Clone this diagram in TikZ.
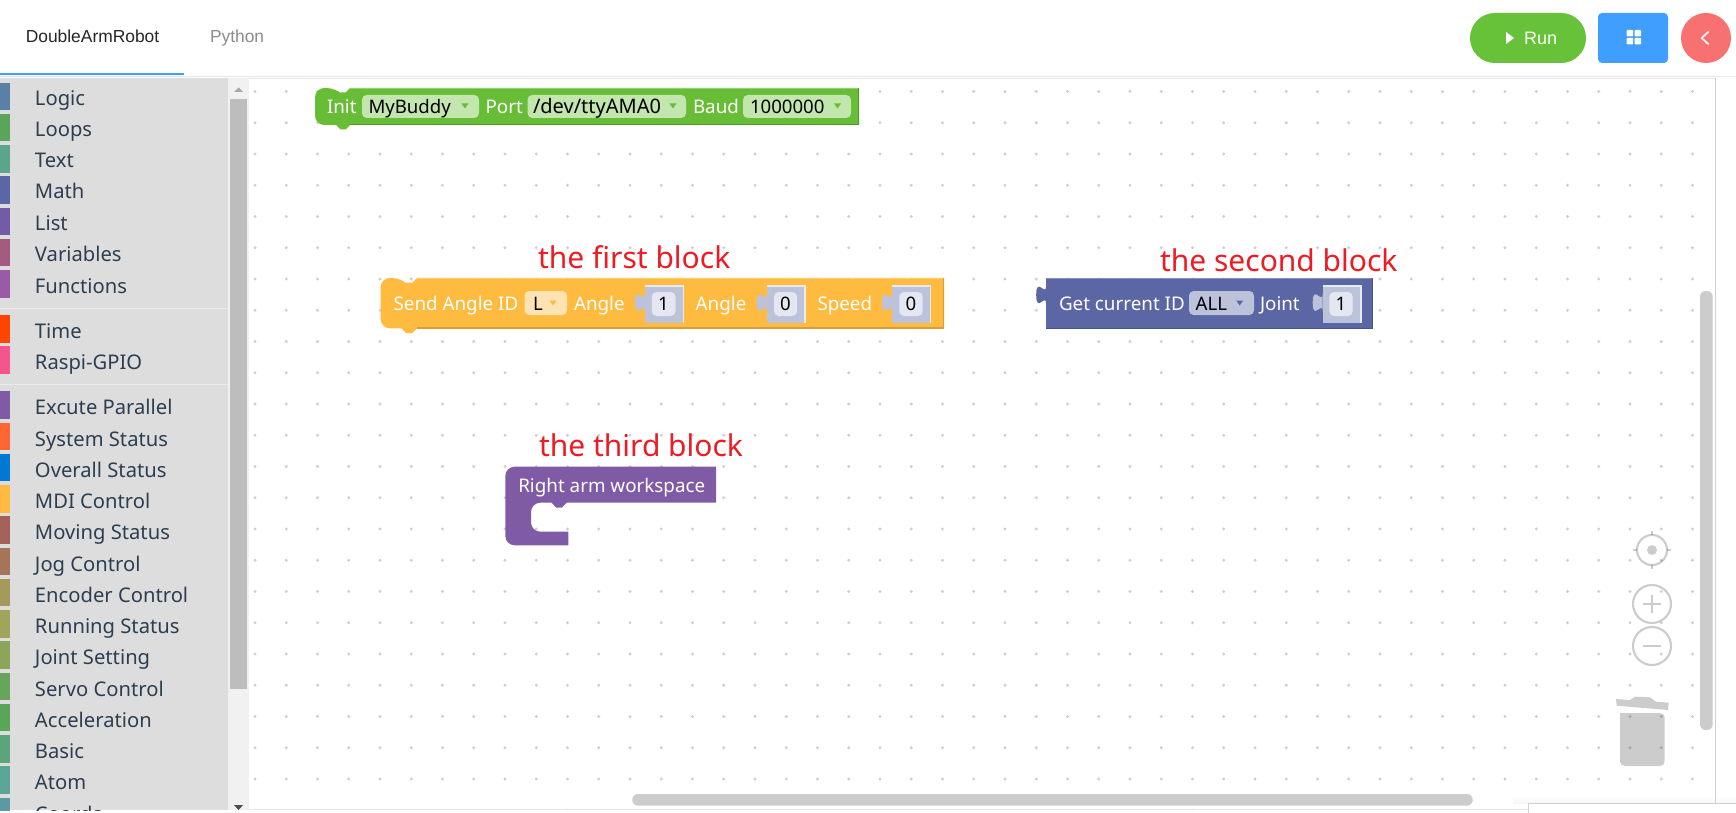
\documentclass[tikz,border=0pt]{standalone}
\usepackage{fontspec}
\setmainfont{Noto Sans}
\newfontfamily\uifont{Liberation Sans}
\newcommand{\fpx}[1]{\fontsize{\dimexpr#1pt*3/4\relax}{\dimexpr#1pt\relax}\selectfont}
\definecolor{sidebg}{HTML}{DDDDDD}
\definecolor{track}{HTML}{F1F1F1}
\definecolor{thumb}{HTML}{BDBDBD}
\definecolor{dotc}{HTML}{CFCFCF}
\definecolor{rule}{HTML}{E4E7ED}
\definecolor{ink}{HTML}{2C3E50}
\definecolor{annot}{HTML}{ED1C24}
\definecolor{tabblue}{HTML}{409EFF}
\definecolor{rungreen}{HTML}{67C23A}
\definecolor{backred}{HTML}{F87171}
\definecolor{greenb}{HTML}{67BD35}
\definecolor{greenf}{HTML}{C2E6AE}
\definecolor{orangeb}{HTML}{FFBB40}
\definecolor{orangef}{HTML}{FFE3B3}
\definecolor{blueb}{HTML}{5B67A5}
\definecolor{bluef}{HTML}{BDC2DB}
\definecolor{bluei}{HTML}{E4E6F1}
\definecolor{purpb}{HTML}{805BA5}
\tikzset{x=0.75pt,y=-0.75pt,
  every node/.style={inner sep=0pt,outer sep=0pt},
  cat/.style={anchor=base west,text=ink,font=\fpx{20.2}},
  wlabel/.style={anchor=base west,text=white,font=\fpx{18.8}},
  flabel/.style={anchor=base west,text=black,font=\fpx{18.6}},
  clabel/.style={anchor=base,text=black,font=\fpx{18.6}},
  anno/.style={anchor=base west,text=annot,font=\fpx{30}},
  field/.style={rounded corners=3.5pt},
  zoomicon/.style={draw=black,draw opacity=.2,line width=1.6pt},
  tablabel/.style={anchor=base west,font=\uifont\fpx{17.4}},
}
\newcommand{\puzzle}[3]{% x, top of tab, colour
  \fill[#3] (#1,#2) .. controls (#1,#2+12.5) and (#1-10,#2-10) .. (#1-10,#2+9.4)
     .. controls (#1-10,#2+28.8) and (#1,#2+6.25) .. (#1,#2+18.75) -- cycle;
}
\newcommand{\socket}[2]{% x, top
  \puzzle{#1+.2}{#2+7.5}{bluef}
  \fill[bluef] (#1,#2) rectangle (#1+38.5,#2+37);
  \draw[white!65!bluef,line width=.9pt] (#1,#2+.3) -- (#1+38.5,#2+.3) -- (#1+38.5,#2+37);
}
\newcommand{\arrowdn}[3]{\fill[#3] (#1-3.5,#2-2.5) -- (#1+3.5,#2-2.5) -- (#1,#2+2.5) -- cycle;}
\newcommand{\catrow}[5]{% name, top, bottom, colour, label
  \definecolor{catcol#1}{HTML}{#4}
  \fill[catcol#1] (0,#2) rectangle (10,#3);
  \node[cat] (cat#1) at (35,#2+23) {#5};
}
\begin{document}
\begin{tikzpicture}
\useasboundingbox (0,0) rectangle (1736,813);
\fill[white] (0,0) rectangle (1736,813);
% canvas dots
\foreach \i in {0,...,46}{\foreach \j in {0,...,23}{
  \fill[dotc] ({255+31.25*\i},{91.5+31.25*\j}) circle[radius=1.6];
}}
\fill[white] (0,810) rectangle (1736,813);
\fill[rule] (249,809) rectangle (1528,810.2);
% bottom-right box
\shade[top color=white,bottom color=black!3] (1513,795) rectangle (1736,803);
\fill[white] (1528,803) rectangle (1736,813);
\draw[black!18,line width=.75pt] (1528,813) -- (1528,803.5) -- (1736,803.5);
% header
\fill[rule] (0,76) rectangle (1736,77.3);
\fill[black!18] (1714.6,78) rectangle (1715.6,803);
\fill[rule] (249,78) rectangle (1715,78.8);
\fill[tabblue] (0,73) rectangle (184,75);
\node[tablabel,text=black!85] (tab1) at (25.8,42.5) {DoubleArmRobot};
\node[tablabel,text=black!45] (tab2) at (210,42.5) {Python};
% buttons
\fill[rungreen,rounded corners=18.7pt] (1470,13) rectangle (1586,63);
\fill[white] (1506,32) -- (1514,38) -- (1506,44) -- cycle;
\node[anchor=base west,font=\uifont\fpx{18},text=white] (run) at (1524,44.5) {Run};
\fill[tabblue,rounded corners=3pt] (1598,13) rectangle (1668,63);
\foreach \a/\b in {1626.7/30,1634.5/30,1626.7/37.8,1634.5/37.8}{
  \fill[white,rounded corners=.6pt] (\a,\b) rectangle (\a+6.5,\b+6.5);
}
\fill[backred] (1706,38) circle[radius=25];
\draw[white,line width=1.2pt] (1708.7,31.5) -- (1701.7,38) -- (1708.7,44.5);
% sidebar
\fill[sidebg] (0,78) rectangle (228,810);
\fill[track] (228,78) rectangle (249,810);
\fill[thumb] (230,99) rectangle (247,689);
\fill[black!35] (234,92) -- (243,92) -- (238.5,87.5) -- cycle;
\fill[black!70] (234,805) -- (243,805) -- (238.5,810) -- cycle;
\fill[white!40!sidebg] (0,307.5) rectangle (228,308.5);
\fill[white!40!sidebg] (0,383.5) rectangle (228,384.5);
\begin{scope}
\clip (0,78) rectangle (228,810);
\catrow{a}{83}{110}{5B80A5}{Logic}
\catrow{b}{114}{141}{5BA55B}{Loops}
\catrow{c}{145}{173}{5BA58C}{Text}
\catrow{d}{176}{204}{5B67A5}{Math}
\catrow{e}{208}{235}{745BA5}{List}
\catrow{f}{239}{266}{A55B80}{Variables}
\catrow{g}{270}{298}{995BA5}{Functions}
\catrow{h}{315}{343}{FF4500}{Time}
\catrow{i}{346}{374}{F5548C}{Raspi-GPIO}
\catrow{j}{391}{419}{805BA5}{Excute Parallel}
\catrow{k}{423}{450}{FF6632}{System Status}
\catrow{l}{454}{481}{0078D4}{Overall Status}
\catrow{m}{485}{513}{FFBB40}{MDI Control}
\catrow{n}{516}{544}{A5625B}{Moving Status}
\catrow{o}{548}{575}{A5745B}{Jog Control}
\catrow{p}{579}{606}{A5995B}{Encoder Control}
\catrow{q}{610}{638}{A0A55B}{Running Status}
\catrow{r}{641}{669}{8CA55B}{Joint Setting}
\catrow{s}{673}{700}{67A55B}{Servo Control}
\catrow{t}{704}{731}{5BA55B}{Acceleration}
\catrow{u}{735}{763}{5BA57A}{Basic}
\catrow{v}{766}{794}{5BA599}{Atom}
\catrow{w}{798}{826}{5B99A5}{Coords}
\end{scope}
% Init block
\fill[greenb] [rounded corners=7pt] (315,106) -- (315,88) -- (336,88) [sharp corners]
   -- (340.5,92.5) -- (345.5,92.5) -- (350,88) -- (859,88) -- (859,125) -- (350,125)
   -- (345.5,129.5) -- (340.5,129.5) -- (336,125) [rounded corners=7pt] -- (315,125) -- (315,106) -- cycle;
\draw[white!30!greenb,line width=.9pt] (350,88.4) -- (859,88.4);
\draw[black!20!greenb,line width=.9pt] (350,124.8) -- (858.7,124.8) -- (858.7,88.4);
\fill[greenf,field] (362,95) rectangle (479,118);
\fill[greenf,field] (527.5,95) rectangle (686,118);
\fill[greenf,field] (743,95) rectangle (851,118);
\arrowdn{465}{106}{greenb}
\arrowdn{673}{106}{greenb}
\arrowdn{837.5}{106}{greenb}
\node[wlabel] (initt) at (327,113.5) {Init};
\node[flabel] (initf) at (368.5,113.5) {MyBuddy};
\node[wlabel] (portt) at (485.6,113.5) {Port};
\node[flabel,font=\fpx{20}] (portf) at (533,113.5) {/dev/ttyAMA0};
\node[wlabel] (baudt) at (693,113.5) {Baud};
\node[flabel] (baudf) at (750,113.5) {1000000};
% Send block
\fill[orangeb] [rounded corners=7pt] (380.6,303) -- (380.6,278) -- (401.5,278) [sharp corners]
   -- (406,282.5) -- (412.5,282.5) -- (417,278) -- (944,278) -- (944,328.3) -- (417,328.3)
   -- (412.5,333) -- (406,333) -- (401.5,328.3) [rounded corners=7pt] -- (380.6,328.3) -- (380.6,303) -- cycle;
\draw[white!25!orangeb,line width=.9pt] (417,278.4) -- (944,278.4);
\draw[black!15!orangeb,line width=.9pt] (417,328) -- (943.7,328) -- (943.7,278.4);
\fill[orangef,field] (524.5,291) rectangle (567,315);
\arrowdn{553}{303}{orangeb}
\socket{644.7}{285.7}
\socket{766.5}{285.7}
\socket{892}{285.7}
\fill[bluei,field] (651.8,292) rectangle (675.5,316);
\fill[bluei,field] (774,292) rectangle (797,316);
\fill[bluei,field] (899.4,292) rectangle (922.7,316);
\node[wlabel] (sendt) at (393.6,310.5) {Send Angle ID};
\node[flabel] (sendf) at (533,310.5) {L};
\node[wlabel] (ang1) at (574,310.5) {Angle};
\node[clabel] (v1) at (663.5,310.5) {1};
\node[wlabel] (ang2) at (695.7,310.5) {Angle};
\node[clabel] (v2) at (785.5,310.5) {0};
\node[wlabel] (spd) at (817.5,310.5) {Speed};
\node[clabel] (v3) at (911,310.5) {0};
% Get block
\puzzle{1046.2}{285.5}{blueb}
\fill[blueb] (1046,278) rectangle (1373,328.5);
\draw[white!25!blueb,line width=.9pt] (1046,278.4) -- (1373,278.4);
\draw[black!18!blueb,line width=.9pt] (1046,328.2) -- (1372.7,328.2) -- (1372.7,278.4);
\fill[bluef,field] (1189,291) rectangle (1254,315);
\arrowdn{1239.7}{303}{blueb}
\socket{1322.5}{285.7}
\fill[bluei,field] (1329.3,292) rectangle (1352.7,316);
\node[wlabel] (gett) at (1059,310.5) {Get current ID};
\node[flabel] (getf) at (1195.7,310.5) {ALL};
\node[wlabel] (joint) at (1260,310.5) {Joint};
\node[clabel] (v4) at (1341,310.5) {1};
% Workspace block
\fill[purpb] [rounded corners=7pt] (505.3,505) -- (505.3,466.7) [sharp corners] -- (716,466.7) -- (716,502.7)
   -- (566.7,502.7) -- (562,507.5) -- (556,507.5) -- (551.7,502.7) [rounded corners=7pt] -- (531,502.7) -- (531,531.7) [sharp corners]
   -- (568.3,531.7) -- (568.3,545.3) [rounded corners=7pt] -- (505.3,545.3) -- (505.3,505) -- cycle;
\node[wlabel] (wst) at (518.3,492) {Right arm workspace};
% annotations
\node[anno] (a1) at (538,268) {the first block};
\node[anno] (a2) at (1160,271.7) {the second block};
\node[anno] (a3) at (539,456) {the third block};
% canvas scrollbars
\fill[black!20,rounded corners=4.3pt] (632.3,794) rectangle (1472.7,805.7);
\fill[black!20,rounded corners=4.3pt] (1700,291) rectangle (1712.7,730);
% zoom controls
\draw[zoomicon] (1652,550) circle[radius=15];
\fill[black,opacity=.2] (1652,550) circle[radius=5];
\draw[zoomicon] (1652,531) -- (1652,535) (1652,565) -- (1652,569) (1633,550) -- (1637,550) (1667,550) -- (1671,550);
\draw[zoomicon] (1652,604) circle[radius=19];
\draw[zoomicon] (1643,604) -- (1661,604) (1652,595) -- (1652,613);
\draw[zoomicon] (1652,646) circle[radius=19];
\draw[zoomicon] (1643,646) -- (1661,646);
% trash
\fill[black,opacity=.2,rounded corners=3.5pt] (1620,713) -- (1620,766) -- (1664.7,766) -- (1664.7,713) [sharp corners] -- cycle;
\fill[black,opacity=.2] (1616,699) -- (1630,700) -- (1635,696.7) -- (1650,697.3) -- (1656,701.7) -- (1668.7,702.7) -- (1668,710) -- (1616.7,705.7) -- cycle;
\end{tikzpicture}
\end{document}
